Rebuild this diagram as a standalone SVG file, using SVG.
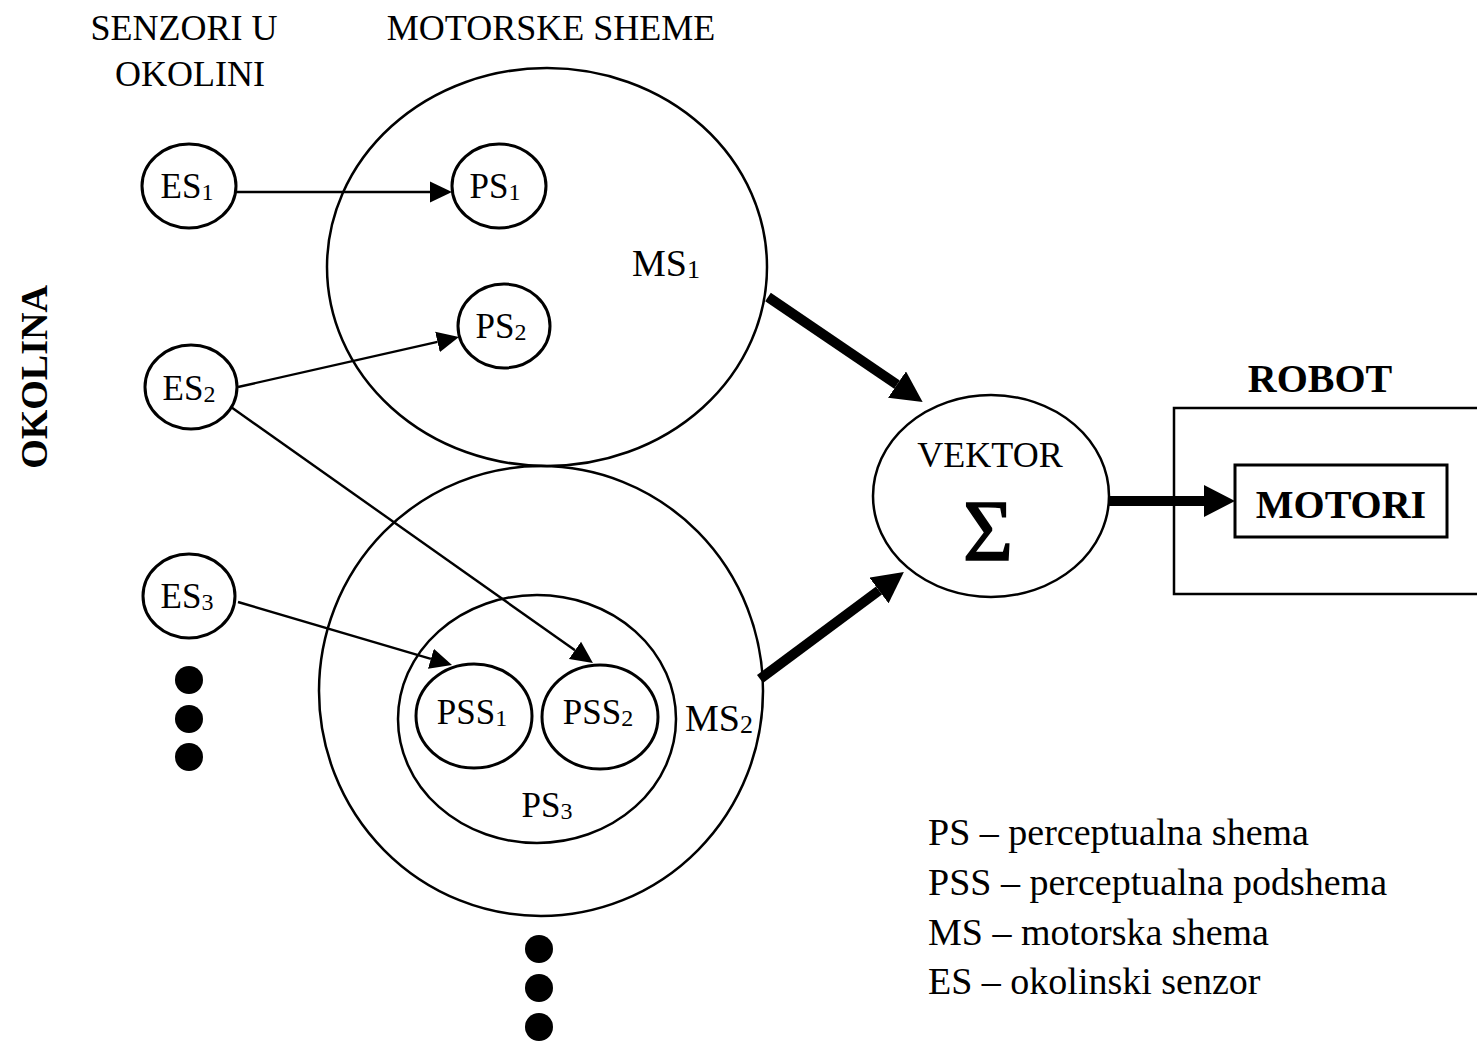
<svg xmlns="http://www.w3.org/2000/svg" width="1477" height="1042" viewBox="0 0 1477 1042">
  <style>
    text { font-family: "Liberation Serif", "Times New Roman", serif; fill: #000; }
    .lbl { font-size: 36px; text-anchor: middle; }
    .node { font-size: 35px; text-anchor: middle; }
    .ms { font-size: 38px; text-anchor: middle; }
    .sub { font-size: 24px; }
    .msub { font-size: 26px; }
    .bold { font-weight: bold; font-size: 40px; text-anchor: middle; }
    .legend { font-size: 38px; }
    .small { fill: none; stroke: #000; stroke-width: 3; }
    .big { fill: none; stroke: #000; stroke-width: 2.5; }
    .thin { fill: none; stroke: #000; stroke-width: 2.4; marker-end: url(#headThin); }
    .thick { fill: none; stroke: #000; stroke-width: 10; marker-end: url(#headThick); }
    .dot { fill: #000; }
  </style>
  <defs>
    <marker id="headThin" viewBox="0 -11 22 22" markerWidth="22" markerHeight="22" refX="0" refY="0" orient="auto" markerUnits="userSpaceOnUse">
      <path d="M0,-10.5 L22,0 L0,10.5 Z" fill="#000"/>
    </marker>
    <marker id="headThick" viewBox="0 -16 31 32" markerWidth="31" markerHeight="32" refX="0" refY="0" orient="auto" markerUnits="userSpaceOnUse">
      <path d="M0,-16 L31,0 L0,16 Z" fill="#000"/>
    </marker>
  </defs>

  <rect width="1477" height="1042" fill="#fff"/>

  <!-- column headings -->
  <g id="headings">
    <text class="lbl" x="184" y="40">SENZORI U</text>
    <text class="lbl" x="190" y="86">OKOLINI</text>
    <text class="lbl" x="551" y="40">MOTORSKE SHEME</text>
    <text class="bold" transform="translate(47,377) rotate(-90)" style="font-size:38px">OKOLINA</text>
  </g>

  <!-- environment sensors -->
  <g id="es1">
    <ellipse class="small" cx="189" cy="186" rx="47" ry="42"/>
    <text class="node" x="187" y="198">ES<tspan class="sub" dy="2">1</tspan></text>
  </g>
  <g id="es2">
    <ellipse class="small" cx="191" cy="387" rx="46" ry="42"/>
    <text class="node" x="189" y="400">ES<tspan class="sub" dy="2">2</tspan></text>
  </g>
  <g id="es3">
    <ellipse class="small" cx="189" cy="596" rx="46" ry="42"/>
    <text class="node" x="187" y="608">ES<tspan class="sub" dy="2">3</tspan></text>
  </g>
  <g id="es-more">
    <circle class="dot" cx="189" cy="680" r="14"/>
    <circle class="dot" cx="189" cy="719" r="14"/>
    <circle class="dot" cx="189" cy="757" r="14"/>
  </g>

  <!-- motor schema 1 -->
  <g id="ms1">
    <ellipse class="big" cx="547" cy="267" rx="220" ry="199"/>
    <text class="ms" x="666" y="276">MS<tspan class="msub" dy="2">1</tspan></text>
  </g>
  <g id="ps1">
    <ellipse class="small" cx="499" cy="186" rx="47" ry="42"/>
    <text class="node" x="495" y="198">PS<tspan class="sub" dy="2">1</tspan></text>
  </g>
  <g id="ps2">
    <ellipse class="small" cx="504" cy="326" rx="46" ry="42"/>
    <text class="node" x="501" y="338">PS<tspan class="sub" dy="2">2</tspan></text>
  </g>

  <!-- motor schema 2 -->
  <g id="ms2">
    <ellipse class="big" cx="541" cy="691" rx="222" ry="225"/>
    <text class="ms" x="719" y="731">MS<tspan class="msub" dy="2">2</tspan></text>
  </g>
  <g id="ps3">
    <ellipse class="big" cx="537" cy="719" rx="139" ry="124"/>
    <text class="node" x="547" y="817">PS<tspan class="sub" dy="2">3</tspan></text>
  </g>
  <g id="pss1">
    <ellipse class="small" cx="474" cy="716" rx="58" ry="52"/>
    <text class="node" x="472" y="724">PSS<tspan class="sub" dy="2">1</tspan></text>
  </g>
  <g id="pss2">
    <ellipse class="small" cx="600" cy="717" rx="58" ry="52"/>
    <text class="node" x="598" y="724">PSS<tspan class="sub" dy="2">2</tspan></text>
  </g>
  <g id="ms-more">
    <circle class="dot" cx="539" cy="949" r="14"/>
    <circle class="dot" cx="539" cy="988" r="14"/>
    <circle class="dot" cx="539" cy="1027" r="14"/>
  </g>

  <!-- vector summation -->
  <g id="vektor">
    <ellipse class="big" cx="991" cy="496" rx="118" ry="101"/>
    <text class="lbl" x="990" y="467">VEKTOR</text>
    <text x="988" y="560" style="font-size:86px;text-anchor:middle;stroke:#000;stroke-width:1.5">Σ</text>
  </g>

  <!-- robot with motors -->
  <g id="robot">
    <rect x="1174" y="408" width="320" height="186" fill="none" stroke="#000" stroke-width="2.5"/>
    <text class="bold" x="1320" y="392">ROBOT</text>
  </g>
  <g id="motori">
    <rect x="1235" y="465" width="212" height="72" fill="none" stroke="#000" stroke-width="3"/>
    <text class="bold" x="1341" y="518">MOTORI</text>
  </g>

  <!-- connectors -->
  <g id="connectors">
    <path class="thin" d="M236,192 L430,192"/>
    <path class="thin" d="M238,387 L437.5,341.9"/>
    <path class="thin" d="M231,407 L575,650.3"/>
    <path class="thin" d="M238,602 L430.9,658.8"/>
    <path class="thick" d="M768,297 L897,384.6"/>
    <path class="thick" d="M760,679 L879,590.5"/>
    <path class="thick" d="M1109,501 L1204,501"/>
  </g>

  <!-- abbreviations -->
  <g id="legend">
    <text class="legend" x="928" y="845">PS – perceptualna shema</text>
    <text class="legend" x="928" y="895">PSS – perceptualna podshema</text>
    <text class="legend" x="928" y="945">MS – motorska shema</text>
    <text class="legend" x="928" y="994">ES – okolinski senzor</text>
  </g>
</svg>
